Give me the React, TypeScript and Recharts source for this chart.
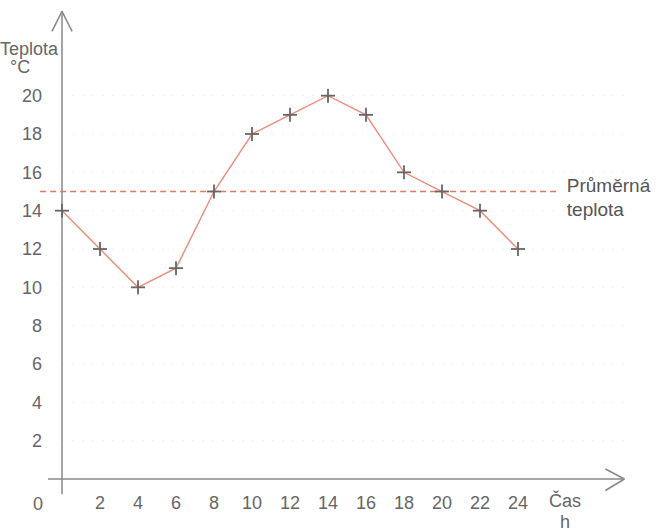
import React from "react";
import {
  LineChart,
  Line,
  XAxis,
  YAxis,
  CartesianGrid,
  ReferenceLine,
} from "recharts";

// hodiny a namerene teploty
const hours = [0, 2, 4, 6, 8, 10, 12, 14, 16, 18, 20, 22, 24];
const temps = [14, 12, 10, 11, 15, 18, 19, 20, 19, 16, 15, 14, 12];
const xTicks = [2, 4, 6, 8, 10, 12, 14, 16, 18, 20, 22, 24];
const yTicks = [2, 4, 6, 8, 10, 12, 14, 16, 18, 20];
const averageTemp = 15;

const data = hours.map((h, i) => ({ h, t: temps[i] }));

const textColor = "#666";
const axisColor = "#888";
const font = "'Liberation Sans', Arial, sans-serif";

function PlusDot(props: any) {
  const { cx, cy } = props;
  if (cx == null || cy == null) return null;
  return (
    <g key={`p-${cx}-${cy}`}>
      <line x1={cx - 7} y1={cy} x2={cx + 7} y2={cy} stroke="#666" strokeWidth={1.8} />
      <line x1={cx} y1={cy - 7} x2={cx} y2={cy + 7} stroke="#666" strokeWidth={1.8} />
    </g>
  );
}

function AvgLabel(props: any) {
  const { viewBox } = props;
  if (!viewBox) return null;
  const x = viewBox.x + viewBox.width + 7;
  const y = viewBox.y;
  return (
    <text fill="#555" fontSize={19} fontFamily={font}>
      <tspan x={x} y={y}>Průměrná</tspan>
      <tspan x={x} y={y + 24}>teplota</tspan>
    </text>
  );
}

const overlay: React.CSSProperties = {
  position: "absolute",
  color: textColor,
  fontSize: 18,
  fontFamily: font,
  lineHeight: "20px",
  whiteSpace: "nowrap",
};

export default function App() {
  return (
    <div
      style={{
        position: "absolute",
        left: 0,
        top: 0,
        width: 659,
        height: 532,
        overflow: "hidden",
        background: "#fff",
      }}
    >
      <LineChart
        width={659}
        height={532}
        data={data}
        margin={{ top: 19, right: 27, left: 2, bottom: 23 }}
      >
        <CartesianGrid
          vertical={false}
          stroke="#f3f3f3"
          strokeDasharray="2 8"
          horizontalValues={yTicks}
        />
        <XAxis
          dataKey="h"
          type="number"
          domain={[0, 30]}
          ticks={xTicks}
          axisLine={false}
          tickLine={false}
          tickSize={0}
          tickMargin={17}
          height={30}
          tick={{ fill: textColor, fontSize: 18, fontFamily: font }}
        />
        <YAxis
          type="number"
          domain={[0, 24]}
          ticks={yTicks}
          axisLine={false}
          tickLine={false}
          tickSize={0}
          tickMargin={20}
          width={60}
          tick={{ fill: textColor, fontSize: 18, fontFamily: font }}
        />
        {/* osy se sipkami */}
        <ReferenceLine
          segment={[{ x: -0.74, y: 0 }, { x: 29.6, y: 0 }]}
          stroke={axisColor}
          strokeWidth={1.5}
          ifOverflow="visible"
        />
        <ReferenceLine
          segment={[{ x: 28.6, y: 0.52 }, { x: 29.6, y: 0 }]}
          stroke={axisColor}
          strokeWidth={1.5}
          ifOverflow="visible"
        />
        <ReferenceLine
          segment={[{ x: 28.6, y: -0.6 }, { x: 29.6, y: 0 }]}
          stroke={axisColor}
          strokeWidth={1.5}
          ifOverflow="visible"
        />
        <ReferenceLine
          segment={[{ x: 0, y: -0.8 }, { x: 0, y: 24.4 }]}
          stroke={axisColor}
          strokeWidth={1.5}
          ifOverflow="visible"
        />
        <ReferenceLine
          segment={[{ x: -0.53, y: 23.35 }, { x: 0, y: 24.4 }]}
          stroke={axisColor}
          strokeWidth={1.5}
          ifOverflow="visible"
        />
        <ReferenceLine
          segment={[{ x: 0.53, y: 23.35 }, { x: 0, y: 24.4 }]}
          stroke={axisColor}
          strokeWidth={1.5}
          ifOverflow="visible"
        />
        {/* prumerna teplota */}
        <ReferenceLine
          segment={[{ x: -1.15, y: averageTemp }, { x: 26.2, y: averageTemp }]}
          stroke="#e07a5f"
          strokeWidth={1.3}
          strokeDasharray="6 4"
          ifOverflow="visible"
          label={<AvgLabel />}
        />
        <Line
          type="linear"
          dataKey="t"
          stroke="#ee8a7a"
          strokeWidth={1.4}
          dot={<PlusDot />}
          activeDot={false}
          isAnimationActive={false}
        />
      </LineChart>
      <div style={{ ...overlay, left: 0, top: 39 }}>Teplota</div>
      <div style={{ ...overlay, left: 10, top: 57 }}>°C</div>
      <div style={{ ...overlay, left: 33, top: 494 }}>0</div>
      <div style={{ ...overlay, left: 549, top: 492, lineHeight: "19px" }}>Čas</div>
      <div style={{ ...overlay, left: 560, top: 513, lineHeight: "18px" }}>h</div>
    </div>
  );
}
